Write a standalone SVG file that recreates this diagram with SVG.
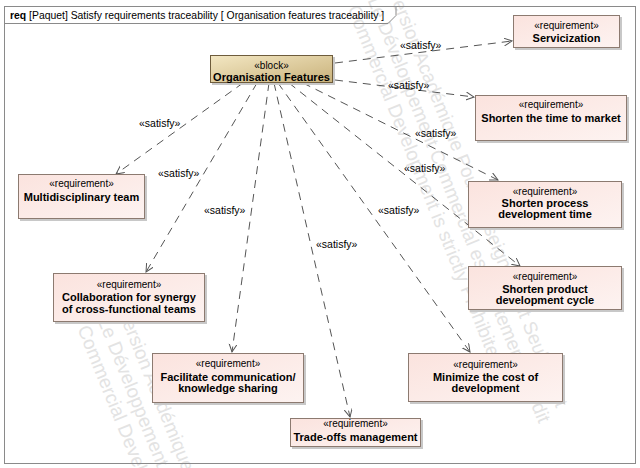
<svg xmlns="http://www.w3.org/2000/svg" width="640" height="468" viewBox="0 0 640 468">
<style>
text{font-family:"Liberation Sans",Arial,sans-serif;fill:#000}
.st{font-size:10px}
.nm{font-size:11px;font-weight:bold}
.lbl{font-size:10.5px}
.req{fill:url(#reqg);stroke:#8c7a70;stroke-width:1}
.sh{fill:#c8c8c8}
.con{fill:none;stroke:#555;stroke-width:1;stroke-dasharray:8 6}
.wm{font-size:19px;fill:#e3e3e3}
</style>
<defs>
<linearGradient id="reqg" x1="0" y1="0" x2="1" y2="1">
<stop offset="0" stop-color="#fbe3de"/>
<stop offset="1" stop-color="#fdf3f1"/>
</linearGradient>
<linearGradient id="blkg" x1="0" y1="0" x2="1" y2="1">
<stop offset="0" stop-color="#f3e7c3"/>
<stop offset="1" stop-color="#c9b27b"/>
</linearGradient>
<marker id="arr" markerWidth="10" markerHeight="10" refX="8" refY="4" orient="auto" markerUnits="userSpaceOnUse">
<path d="M0,0 L8,4 L0,8" fill="none" stroke="#555" stroke-width="1"/>
</marker>
</defs>
<rect width="640" height="468" fill="#fff"/>
<g id="watermark">
<g transform="translate(388,-8) rotate(68)">
<text class="wm" x="0" y="0">Version Académique Pour l'Enseignement Seulement</text>
<text class="wm" x="0" y="22">Le Développement Commercial est strictement interdit</text>
<text class="wm" x="0" y="44">Commercial Development is strictly Prohibited</text>
</g>
<g transform="translate(118,312) rotate(68)">
<text class="wm" x="0" y="0">Version Académique Pour l'Enseignement Seulement</text>
<text class="wm" x="0" y="22">Le Développement Commercial est strictement interdit</text>
<text class="wm" x="0" y="44">Commercial Development is strictly Prohibited</text>
</g>
</g>
<g id="frame">
<rect x="4.5" y="6.5" width="631" height="457" fill="none" stroke="#8a8a8a"/>
<path d="M4.5,23.5 H388 L396,15.5 V6.5" fill="none" stroke="#8a8a8a"/>
<text x="10" y="19" style="font-size:10.4px"><tspan font-weight="bold">req</tspan> [Paquet] Satisfy requirements traceability [ Organisation features traceability ]</text>
</g>
<g id="connectors">
<path class="con" d="M335,63 L512,41" marker-end="url(#arr)"/>
<path class="con" d="M335,80 L474,97" marker-end="url(#arr)"/>
<path class="con" d="M303,83 L498,180" marker-end="url(#arr)"/>
<path class="con" d="M289,83 L520,266" marker-end="url(#arr)"/>
<path class="con" d="M278,83 L470,352" marker-end="url(#arr)"/>
<path class="con" d="M274,83 L350,417" marker-end="url(#arr)"/>
<path class="con" d="M269,83 L232,352" marker-end="url(#arr)"/>
<path class="con" d="M257,83 L146,272" marker-end="url(#arr)"/>
<path class="con" d="M243,83 L116,174" marker-end="url(#arr)"/>
<text class="lbl" x="400" y="49">«satisfy»</text>
<text class="lbl" x="388" y="89">«satisfy»</text>
<text class="lbl" x="415" y="137">«satisfy»</text>
<text class="lbl" x="404" y="172">«satisfy»</text>
<text class="lbl" x="378" y="214">«satisfy»</text>
<text class="lbl" x="316" y="248">«satisfy»</text>
<text class="lbl" x="204" y="214">«satisfy»</text>
<text class="lbl" x="158" y="177">«satisfy»</text>
<text class="lbl" x="139" y="127">«satisfy»</text>
</g>
<g id="organisation-features">
<rect x="212" y="57" width="123" height="28" class="sh"/>
<rect x="210.5" y="55.5" width="122" height="27" fill="url(#blkg)" stroke="#6e5c3c"/>
<text class="st" x="271.5" y="69" text-anchor="middle">«block»</text>
<text class="nm" x="271.5" y="81" text-anchor="middle">Organisation Features</text>
</g>
<g id="servicization">
<rect x="515" y="17" width="107" height="33" class="sh"/>
<rect x="513.5" y="15.5" width="106" height="32" class="req"/>
<text class="st" x="566.5" y="29" text-anchor="middle">«requirement»</text>
<text class="nm" x="566.5" y="42" text-anchor="middle">Servicization</text>
</g>
<g id="shorten-time-to-market">
<rect x="477" y="97" width="152" height="46" class="sh"/>
<rect x="475.5" y="95.5" width="151" height="45" class="req"/>
<text class="st" x="551" y="108" text-anchor="middle">«requirement»</text>
<text class="nm" x="551" y="122" text-anchor="middle">Shorten the time to market</text>
</g>
<g id="shorten-process-development-time">
<rect x="470" y="183" width="154" height="47" class="sh"/>
<rect x="468.5" y="181.5" width="153" height="46" class="req"/>
<text class="st" x="545" y="195" text-anchor="middle">«requirement»</text>
<text class="nm" x="545" y="207" text-anchor="middle">Shorten process</text>
<text class="nm" x="545" y="218" text-anchor="middle">development time</text>
</g>
<g id="shorten-product-development-cycle">
<rect x="470" y="268" width="154" height="44" class="sh"/>
<rect x="468.5" y="266.5" width="153" height="43" class="req"/>
<text class="st" x="545" y="280" text-anchor="middle">«requirement»</text>
<text class="nm" x="545" y="293" text-anchor="middle">Shorten product</text>
<text class="nm" x="545" y="304" text-anchor="middle">development cycle</text>
</g>
<g id="multidisciplinary-team">
<rect x="20" y="176" width="127" height="45" class="sh"/>
<rect x="18.5" y="174.5" width="126" height="44" class="req"/>
<text class="st" x="81.5" y="187" text-anchor="middle">«requirement»</text>
<text class="nm" x="81.5" y="201" text-anchor="middle">Multidisciplinary team</text>
</g>
<g id="collaboration">
<rect x="55" y="275" width="152" height="49" class="sh"/>
<rect x="53.5" y="273.5" width="151" height="48" class="req"/>
<text class="st" x="129" y="288" text-anchor="middle">«requirement»</text>
<text class="nm" x="129" y="301" text-anchor="middle">Collaboration for synergy</text>
<text class="nm" x="129" y="313" text-anchor="middle">of cross-functional teams</text>
</g>
<g id="facilitate-communication">
<rect x="154" y="355" width="152" height="50" class="sh"/>
<rect x="152.5" y="353.5" width="151" height="49" class="req"/>
<text class="st" x="228" y="367" text-anchor="middle">«requirement»</text>
<text class="nm" x="228" y="381" text-anchor="middle">Facilitate communication/</text>
<text class="nm" x="228" y="392" text-anchor="middle">knowledge sharing</text>
</g>
<g id="trade-offs-management">
<rect x="292" y="420" width="131" height="29" class="sh"/>
<rect x="290.5" y="418.5" width="130" height="28" class="req"/>
<text class="st" x="355.5" y="427" text-anchor="middle">«requirement»</text>
<text class="nm" x="355.5" y="441" text-anchor="middle">Trade-offs management</text>
</g>
<g id="minimize-cost">
<rect x="410" y="355" width="155" height="49" class="sh"/>
<rect x="408.5" y="353.5" width="154" height="48" class="req"/>
<text class="st" x="485.5" y="368" text-anchor="middle">«requirement»</text>
<text class="nm" x="485.5" y="381" text-anchor="middle">Minimize the cost of</text>
<text class="nm" x="485.5" y="392" text-anchor="middle">development</text>
</g>
</svg>
